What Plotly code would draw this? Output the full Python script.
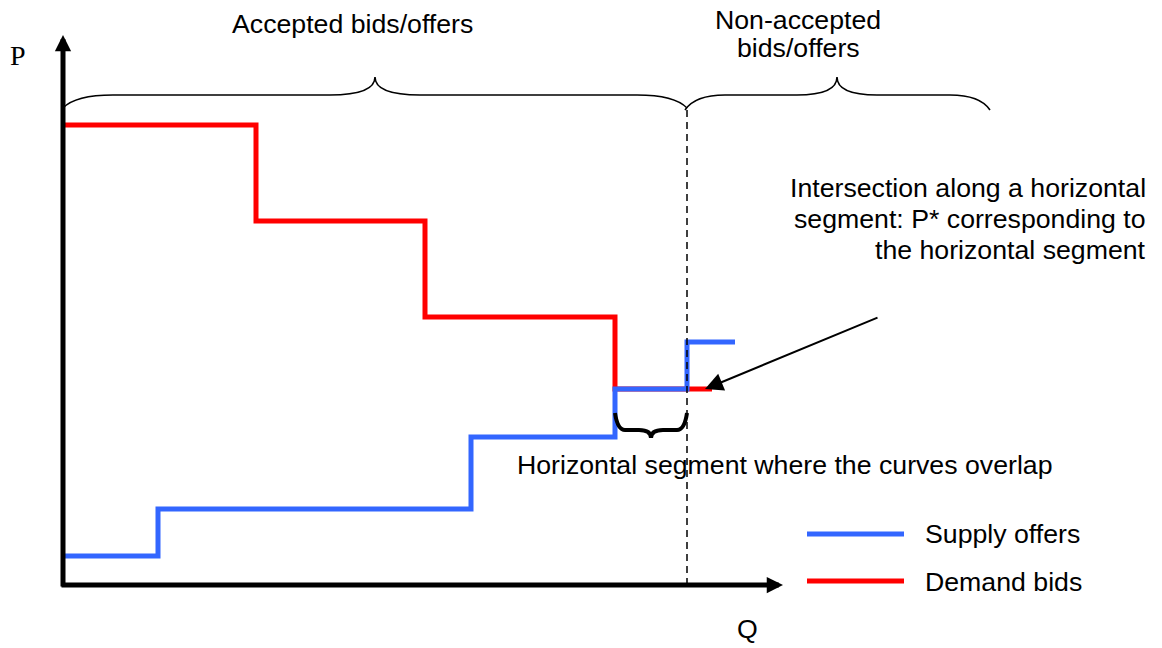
import plotly.graph_objects as go

# ---- data (Q, P in arbitrary units) ----
demand_q = [0, 19.3, 36.2, 55.2, 64.9]
demand_p = [46.0, 36.4, 26.8, 19.6, 19.6]
supply_q = [0, 9.5, 40.8, 55.2, 62.4, 67.2]
supply_p = [2.9, 7.6, 14.8, 19.6, 24.3, 24.3]
q_clear = 62.4          # last accepted quantity (dashed line)
series_names = ["Supply offers", "Demand bids"]

BLUE = "#3366FF"
RED = "#FF0000"
W, H = 1162, 648
OX, OY, K = 63, 585, 10.0    # page-pixel origin of axes and pixels per unit
FONT = "Liberation Sans, Arial, sans-serif"
FS = 26.7


def X(px):
    return (px - OX) / K


def Y(py):
    return (OY - py) / K


fig = go.Figure()
fig.add_trace(go.Scatter(x=demand_q, y=demand_p, mode="lines", line=dict(color=RED, width=5, shape="hv"),
                         name=series_names[1], showlegend=False, hoverinfo="skip"))
fig.add_trace(go.Scatter(x=supply_q, y=supply_p, mode="lines", line=dict(color=BLUE, width=5, shape="hv"),
                         name=series_names[0], showlegend=False, hoverinfo="skip"))


def brace(x0, x1, xm, y_end, y_base, y_tip, r_end, r_mid):
    c = 0.25
    p = (f"M {X(x0)},{Y(y_end)} Q {X(x0 + c * r_end)},{Y(y_base)} {X(x0 + r_end)},{Y(y_base)} "
         f"L {X(xm - r_mid)},{Y(y_base)} Q {X(xm)},{Y(y_base)} {X(xm)},{Y(y_tip)} "
         f"Q {X(xm)},{Y(y_base)} {X(xm + r_mid)},{Y(y_base)} "
         f"L {X(x1 - r_end)},{Y(y_base)} Q {X(x1 - c * r_end)},{Y(y_base)} {X(x1)},{Y(y_end)}")
    return p


shapes = []
# dashed clearing line
shapes.append(dict(type="line", xref="x", yref="y", x0=q_clear, x1=q_clear, y0=0, y1=Y(108),
                   line=dict(color="black", width=1.5, dash="7px,5px")))
# braces
shapes.append(dict(type="path", xref="x", yref="y", path=brace(63, 687, 375, 108, 95, 77, 50, 45),
                   line=dict(color="black", width=1.6)))
shapes.append(dict(type="path", xref="x", yref="y", path=brace(685, 990, 837, 110, 95, 77, 40, 40),
                   line=dict(color="black", width=1.6)))
shapes.append(dict(type="path", xref="x", yref="y", path=brace(615, 687, 651, 413, 430, 438, 10, 12),
                   line=dict(color="black", width=4)))
# legend samples
shapes.append(dict(type="line", xref="x", yref="y", x0=X(807), x1=X(904), y0=Y(534), y1=Y(534),
                   line=dict(color=BLUE, width=5)))
shapes.append(dict(type="line", xref="x", yref="y", x0=X(807), x1=X(904), y0=Y(581), y1=Y(581),
                   line=dict(color=RED, width=5)))

ann = []
# axes with arrows
ann.append(dict(x=X(783), y=0, ax=X(60), ay=0, xref="x", yref="y", axref="x", ayref="y", text="",
                showarrow=True, arrowhead=2, arrowwidth=5, arrowsize=0.65, arrowcolor="black", standoff=0))
ann.append(dict(x=0, y=Y(35), ax=0, ay=Y(588), xref="x", yref="y", axref="x", ayref="y", text="",
                showarrow=True, arrowhead=2, arrowwidth=5, arrowsize=0.65, arrowcolor="black", standoff=0))
# intersection pointer
ann.append(dict(x=X(705), y=Y(389), ax=X(879), ay=Y(317), xref="x", yref="y", axref="x", ayref="y", text="",
                showarrow=True, arrowhead=2, arrowwidth=2, arrowsize=1.8, arrowcolor="black", standoff=0))


def txt(s, px, py, xanchor="center", size=FS, family=FONT):
    return dict(x=X(px), y=Y(py), xref="x", yref="y", text=s, showarrow=False, xanchor=xanchor,
                yanchor="middle", font=dict(family=family, size=size, color="black"))


ann.append(txt("P", 18, 55, size=28, family="Liberation Serif, Times New Roman, serif"))
ann.append(txt("Q", 747, 629))
ann.append(txt("Accepted bids/offers", 352, 24))
ann.append(txt("Non-accepted", 798, 20))
ann.append(txt("bids/offers", 798, 48))
ann.append(txt("Intersection along a horizontal", 1148, 188, xanchor="right"))
ann.append(txt("segment: P* corresponding to", 1148, 219, xanchor="right"))
ann.append(txt("the horizontal segment", 1148, 250, xanchor="right"))
ann.append(txt("Horizontal segment where the curves overlap", 515, 465, xanchor="left"))
ann.append(txt(series_names[0], 923, 534, xanchor="left"))
ann.append(txt(series_names[1], 923, 582, xanchor="left"))

fig.update_layout(
    width=W, height=H, margin=dict(l=0, r=0, t=0, b=0),
    paper_bgcolor="white", plot_bgcolor="white",
    xaxis=dict(range=[X(0), X(W)], visible=False, fixedrange=True),
    yaxis=dict(range=[Y(H), Y(0)], visible=False, fixedrange=True),
    shapes=shapes, annotations=ann, showlegend=False,
)
fig.write_html("out.html", config={"displayModeBar": False},
               post_script="document.body.style.margin='0';document.body.style.overflow='hidden';")
